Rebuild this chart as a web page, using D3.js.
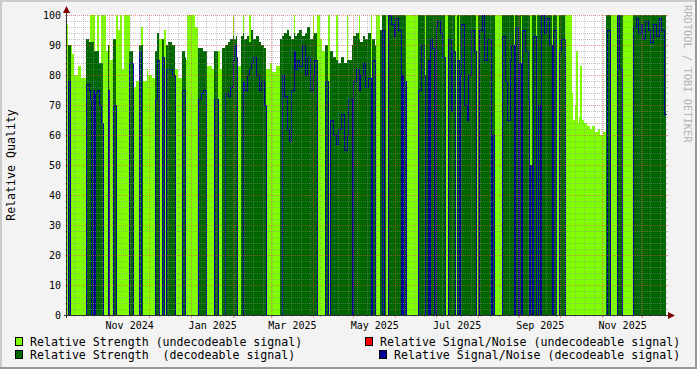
<!DOCTYPE html>
<html lang="en">
<head>
<meta charset="UTF-8">
<title>Relative Quality</title>
<script src="https://cdn.jsdelivr.net/npm/d3@7"></script>
<style>
  body { margin: 0; background: #f3f3f3; }
  svg { display: block; font-family: "DejaVu Sans Mono", monospace; }
  text { white-space: pre; }
</style>
</head>
<body>
<script>
  // runs of whole days starting 2024-10-01, with the values held during each run
  const runDays = [
    1,1,1,1,1,3,2,4,
    2,1,1,1,1,1,1,
    2,1,2, 2,1, 1, 1,2, 2,
    2,1,2,1,4, 1,2, 2,2, 2,1,
    3,1,3,2, 2, 1,2, 2,1,2, 3,2, 2,3, 2,1,
    1,6,2, 2,2,2,1, 3,2, 3, 1,2,
    2,2,2,2,1,1,1, 3,
    1,1,2,2,1,2,2,2,2,2,1,
    3,2,3,3,
    1,2,2,1,2,2,1,1,2,
    2,2,2,2,2,1,2,
    2,2,2, 2, 2,
    2,2,2,2,2,2,1,3, 1,
    2,2,1,2,2,2,2, 1, 2,1, 3, 1,2,1, 2,
    2,2,1,2,2, 1,1,1,1, 9, 2,2,1, 1,
    1,1,1,1, 2,1,1, 2,2,2, 2, 2,1,2, 2, 1,1,1,
    2,2,1,2,2,2, 1,1, 2,2,2,3, 1,1,1, 5,
    2,2,2,1,2, 1,2,1, 1,1, 2,2,1, 1,1,1, 2,1, 1,1,1,
    2,2,2,2, 1,2, 1,1,2, 3, 5,
    1,1,1,1,1,1,1,2,2,2,2,2,2,2,2,2,
    1,2,1, 4, 2,2,1, 7,
    2,2,2,1,2,2,2,2,2,2,2,2,1
  ]

  // relative strength, undecodeable signal
  const weak = [
    97,0,0,90,87,80,83,79,
    0,0,100,100,100,100,0,
    100,0,100, 100,88, 0, 90,85, 0,
    100,95,100,82,100, 100,0, 76,78, 0,96,
    78,82,80,79, 0, 0,92, 0,95,0, 0,0, 82,79, 0,0,
    85,100,96, 0,0,0,0, 83,82, 0, 88,82,
    0,0,0,0,100,0,0, 83,
    0,100,0,0,100,0,0,0,0,0,0,
    82,84,81,83,
    0,0,0,0,0,0,100,0,0,
    0,0,0,0,0,100,0,
    100,92,88, 0, 100,
    0,0,100,0,0,0,100,0, 0,
    0,0,100,0,0,0,0, 100, 0,0, 100, 0,0,0, 100,
    0,0,0,0,0, 0,0,0,0, 100, 0,0,0, 100,
    0,0,0,0, 0,0,0, 0,0,0, 100, 0,0,0, 100, 0,100,0,
    0,0,0,0,0,0, 100,0, 0,0,0,0, 0,0,0, 100,
    0,0,0,0,0, 100,0,0, 0,100, 0,0,0, 0,100,0, 0,100, 0,0,0,
    0,0,0,0, 100,0, 0,100,0, 0, 100,
    74,65,70,88,64,66,83,65,64,63,62,63,61,62,60,61,
    0,0,0, 100, 0,0,0, 100,
    0,0,0,0,0,0,0,0,0,0,0,0,0
  ]

  // relative strength, decodeable signal
  const strong = [
    0,90,90,0,0,0,0,0,
    92,91,91,91,91,88,88,
    88,84,84, 0,0, 90, 0,0, 92,
    0,0,0,0,0, 88,88, 0,0, 90,90,
    0,0,0,0, 88, 94,0, 92,0,90, 91,90, 0,0, 88,86,
    0,0,0, 89,89,88,88, 0,0, 88, 0,0,
    89,90,91,92,93,92,93, 0,
    93,94,92,93,91,95,92,93,91,90,89,
    0,0,0,0,
    92,93,94,95,93,92,94,93,94,
    95,93,94,96,92,93,94,
    0,0,0, 90, 0,
    88,86,85,84,86,84,85,85, 90,
    93,94,92,91,93,92,94, 0, 92,90, 0, 95,100,100, 0,
    100,100,100,100,100, 100,100,100,100, 0, 100,100,100, 0,
    100,100,100,100, 100,100,100, 100,100,100, 0, 100,100,100, 0, 100,0,100,
    100,100,100,100,100,100, 0,100, 100,100,100,100, 100,100,100, 0,
    100,100,100,100,100, 0,100,100, 100,0, 100,100,100, 100,50,100, 100,0, 100,100,100,
    100,100,100,100, 0,100, 100,0,100, 100, 0,
    0,0,0,0,0,0,0,0,0,0,0,0,0,0,0,0,
    100,100,100, 0, 100,100,100, 0,
    100,100,100,100,100,100,100,100,100,100,100,100,100
  ]

  // relative signal/noise, decodeable signal
  const snr = [
    0,78,0,0,0,0,0,0,
    77,75,72,0,75,0,74,
    75,70,64, 0,0, 75, 0,0, 70,
    0,0,0,0,0, 84,84, 0,0, 88,0,
    0,0,0,0, 72, 85,0, 86,0,82, 82,80, 0,0, 75,0,
    0,0,0, 72,74,75,0, 0,0, 72, 0,0,
    0,74,73,76,85,90,86, 0,
    0,78,75,80,82,84,86,80,75,78,70,
    0,0,0,0,
    0,80,73,62,58,75,88,82,85,
    83,90,80,86,75,80,85,
    0,0,0, 78, 0,
    65,60,57,62,67,55,60,72, 0,
    78,82,75,80,84,76,79, 0, 85,0, 0, 0,95,0, 0,
    100,97,93,99,95, 0,80,0,78, 0, 75,90,80, 0,
    0,85,0,92, 89,0,96, 98,94,86, 0, 92,68,88, 0, 85,0,80,
    97,70,65,80,95,88, 0,0, 95,100,85,92, 0,60,0, 0,
    93,78,65,85,90, 0,96,0, 84,0, 95,88,72, 0,50,0, 93,0, 0,70,0,
    100,94,99,90, 0,95, 0,0,88, 92, 0,
    0,0,0,0,0,0,0,0,0,0,0,0,0,0,0,0,
    0,95,0, 0, 100,82,0, 0,
    96,99,94,97,92,98,95,91,97,93,99,95,67
  ]

  const yTicks = [0, 10, 20, 30, 40, 50, 60, 70, 80, 90, 100]
  const xLabelMonths = ["2024-11-01", "2025-01-01", "2025-03-01", "2025-05-01", "2025-07-01", "2025-09-01", "2025-11-01"]

  const legend = [
    {label: "Relative Strength (undecodeable signal)", color: "#7fff00", x: 15, row: 0},
    {label: "Relative Strength  (decodeable signal)", color: "#006600", x: 15, row: 1},
    {label: "Relative Signal/Noise (undecodeable signal)", color: "#ff0000", x: 365, row: 0},
    {label: "Relative Signal/Noise (decodeable signal)", color: "#000099", x: 379, row: 1}
  ]

  const W = 697, H = 369
  const X0 = 67, X1 = 666, Y0 = 315, Y1 = 15

  const start = new Date(Date.UTC(2024, 9, 1))
  const end = new Date(Date.UTC(2025, 11, 18, 12))

  const x = d3.scaleUtc().domain([start, end]).range([X0, X1])
  const y = d3.scaleLinear().domain([0, 100]).range([Y0, Y1])

  // expand the runs into one record per day
  let data = [], day = 0
  runDays.forEach((n, i) => {
    for (let k = 0; k < n; k++) {
      data.push({date: d3.utcDay.offset(start, day), weak: weak[i], strong: strong[i], snr: snr[i]})
      day++
    }
  })
  data.push(Object.assign({}, data[data.length - 1], {date: end}))

  const svg = d3.select("body").append("svg")
    .attr("width", W).attr("height", H)

  // frame
  svg.append("rect").attr("width", W).attr("height", H).attr("fill", "#f3f3f3")
  svg.append("path").attr("d", `M0,0H${W}V2H2V${H}H0Z`).attr("fill", "#cbcbcb")
  svg.append("path").attr("d", `M${W},0V${H}H0V${H - 2}H${W - 2}V0Z`).attr("fill", "#999999")

  // canvas
  svg.append("rect").attr("x", X0).attr("y", Y1).attr("width", X1 - X0).attr("height", Y0 - Y1).attr("fill", "#ffffff")

  const px = d => Math.round(x(d.date))

  const area = key => d3.area()
    .curve(d3.curveStepAfter)
    .x(px)
    .y0(y(0))
    .y1(d => y(d[key]))

  const plot = svg.append("g").attr("shape-rendering", "crispEdges")

  plot.append("path").attr("d", area("weak")(data)).attr("fill", "#7fff00")
  plot.append("path").attr("d", area("strong")(data)).attr("fill", "#006600")

  const line = d3.line()
    .curve(d3.curveStepAfter)
    .x(d => px(d) + 0.5)
    .y(d => Math.round(y(d.snr)) + 0.5)

  plot.append("path").attr("d", line(data))
    .attr("fill", "none").attr("stroke", "#000099").attr("stroke-width", 1)

  // grid on top of the data
  const grid = svg.append("g").attr("shape-rendering", "crispEdges")
  const minorColor = "rgba(140,140,140,0.5)"
  const majorColor = "rgba(222,80,80,0.6)"

  d3.range(0, 101, 2).filter(v => v % 10 !== 0).forEach(v => {
    const yy = Math.round(y(v)) + 0.5
    grid.append("line").attr("x1", X0).attr("x2", X1).attr("y1", yy).attr("y2", yy)
      .attr("stroke", minorColor).attr("stroke-dasharray", "1,1")
    grid.append("line").attr("x1", X0 - 2).attr("x2", X0).attr("y1", yy).attr("y2", yy).attr("stroke", minorColor)
    grid.append("line").attr("x1", X1).attr("x2", X1 + 2).attr("y1", yy).attr("y2", yy).attr("stroke", minorColor)
  })

  d3.utcSunday.range(start, end).forEach(t => {
    if (t.getUTCDate() === 1) return
    const xx = Math.round(x(t)) + 0.5
    grid.append("line").attr("x1", xx).attr("x2", xx).attr("y1", Y1).attr("y2", Y0)
      .attr("stroke", minorColor).attr("stroke-dasharray", "1,1")
    grid.append("line").attr("x1", xx).attr("x2", xx).attr("y1", Y0).attr("y2", Y0 + 2).attr("stroke", minorColor)
  })

  yTicks.forEach(v => {
    const yy = Math.round(y(v)) + 0.5
    grid.append("line").attr("x1", X0).attr("x2", X1).attr("y1", yy).attr("y2", yy)
      .attr("stroke", majorColor).attr("stroke-dasharray", "1,1")
    grid.append("line").attr("x1", X0 - 2).attr("x2", X0).attr("y1", yy).attr("y2", yy).attr("stroke", majorColor)
    grid.append("line").attr("x1", X1).attr("x2", X1 + 2).attr("y1", yy).attr("y2", yy).attr("stroke", majorColor)
  })

  d3.utcMonth.range(d3.utcDay.offset(start, 1), end).forEach(t => {
    const xx = Math.round(x(t)) + 0.5
    grid.append("line").attr("x1", xx).attr("x2", xx).attr("y1", Y1).attr("y2", Y0)
      .attr("stroke", majorColor).attr("stroke-dasharray", "1,1")
    grid.append("line").attr("x1", xx).attr("x2", xx).attr("y1", Y0).attr("y2", Y0 + 3).attr("stroke", majorColor)
  })

  // axes lines and arrows
  const axes = svg.append("g").attr("shape-rendering", "crispEdges")
  axes.append("line").attr("x1", X0 - 3).attr("x2", X1 + 5).attr("y1", Y0 + 0.5).attr("y2", Y0 + 0.5).attr("stroke", "#333333")
  axes.append("line").attr("x1", X0 - 0.5).attr("x2", X0 - 0.5).attr("y1", Y0 + 3).attr("y2", Y1 - 4).attr("stroke", "#333333")
  svg.append("path").attr("d", `M${X1 + 2},${Y0 - 3}L${X1 + 9},${Y0 + 0.5}L${X1 + 2},${Y0 + 4}Z`).attr("fill", "#7f0000")
  svg.append("path").attr("d", `M${X0 - 4},${Y1 - 2}L${X0 - 0.5},${Y1 - 9}L${X0 + 3},${Y1 - 2}Z`).attr("fill", "#7f0000")

  // y labels
  const yAxis = svg.append("g")
    .attr("transform", `translate(${X0 - 6},0)`)
    .call(d3.axisLeft(y).tickValues(yTicks).tickSize(0).tickPadding(0))
  yAxis.select(".domain").remove()
  yAxis.selectAll("text")
    .attr("font-family", "DejaVu Sans Mono, monospace").attr("font-size", "10px")
    .attr("fill", "#000").attr("dy", "0.36em")

  // x labels, centred in their month
  const labelDates = xLabelMonths.map(s => new Date(s + "T00:00:00Z"))
  const xAxis = svg.append("g")
    .attr("transform", `translate(0,${Y0})`)
    .call(d3.axisBottom(x)
      .tickValues(labelDates.map(m => new Date((+m + +d3.utcMonth.offset(m, 1)) / 2)))
      .tickFormat((d, i) => d3.utcFormat("%b %Y")(labelDates[i]))
      .tickSize(0).tickPadding(0))
  xAxis.select(".domain").remove()
  xAxis.selectAll("text")
    .attr("font-family", "DejaVu Sans Mono, monospace").attr("font-size", "10px")
    .attr("fill", "#000").attr("dy", null).attr("y", 13.5)

  // y title
  svg.append("text")
    .attr("transform", `translate(15,${(Y0 + Y1) / 2}) rotate(-90)`)
    .attr("text-anchor", "middle")
    .attr("font-size", "11.6px")
    .text("Relative Quality")

  // watermark
  svg.append("text")
    .attr("transform", "translate(684,5) rotate(90)")
    .attr("font-size", "10.4px")
    .attr("fill", "#b4b4b4")
    .text("RRDTOOL / TOBI OETIKER")

  // legend
  const lg = svg.append("g").selectAll("g").data(legend).enter().append("g")
    .attr("transform", d => `translate(${d.x},${337 + d.row * 13})`)
  lg.append("rect")
    .attr("x", 0.5).attr("y", 0.5).attr("width", 7).attr("height", 8)
    .attr("fill", d => d.color).attr("stroke", "#000").attr("shape-rendering", "crispEdges")
  lg.append("text")
    .attr("x", 15).attr("y", 8.6)
    .attr("font-size", "11.6px")
    .text(d => d.label)
</script>
</body>
</html>
